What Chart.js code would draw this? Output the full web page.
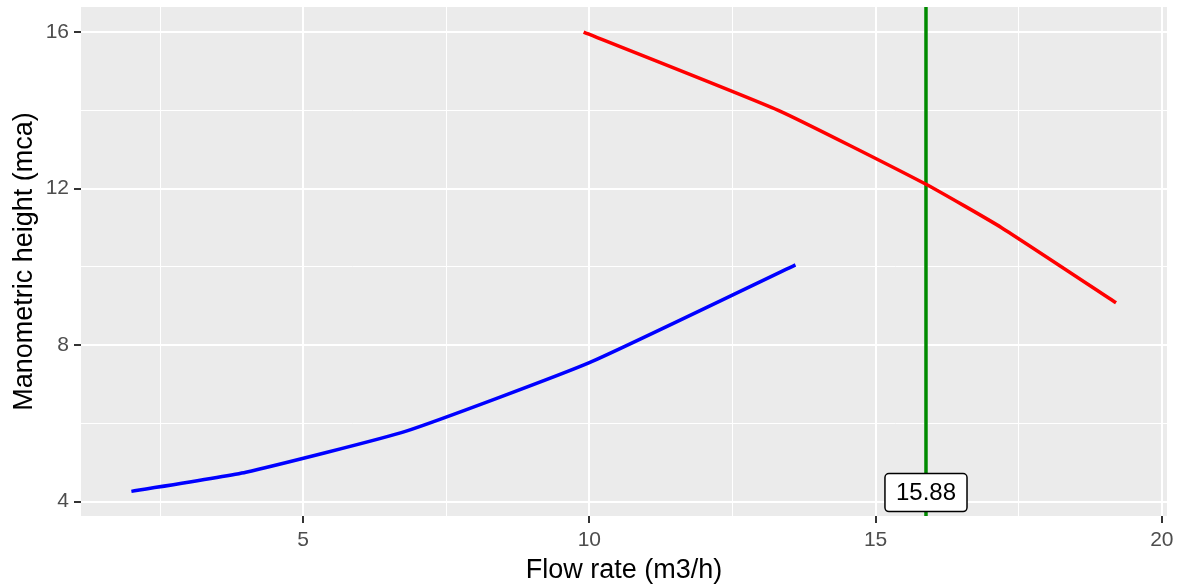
<!DOCTYPE html>
<html>
<head>
<meta charset="utf-8">
<script src="https://cdn.jsdelivr.net/npm/chart.js@4.4.1/dist/chart.umd.min.js"></script>
<style>
  html, body { margin: 0; padding: 0; background: #fff; }
  #wrap { width: 1184px; height: 587px; }
</style>
</head>
<body>
<div id="wrap"><canvas id="pumpChart"></canvas></div>
<script>
// system curve (blue)
const systemFlow = [2.0, 4.0, 6.8, 10.0, 13.6];
const systemHead = [4.26, 4.75, 5.8, 7.55, 10.05];
// pump curve (red)
const pumpFlow = [9.9, 13.3, 15.88, 17.2, 19.2];
const pumpHead = [16.0, 14.0, 12.11, 11.0, 9.08];
// operating point
const operatingFlow = 15.88;
const operatingLabel = '15.88';
// axes
const xMajorTicks = [5, 10, 15, 20];
const xAllTicks = [2.5, 5, 7.5, 10, 12.5, 15, 17.5, 20];
const yMajorTicks = [4, 8, 12, 16];
const yAllTicks = [4, 6, 8, 10, 12, 14, 16];
const X_MIN = 1.12, X_MAX = 20.09;
const Y_MIN = 3.63, Y_MAX = 16.64;

const FONT = '"Liberation Sans", Arial, sans-serif';
const toPoints = (xs, ys) => xs.map((x, i) => ({ x: x, y: ys[i] }));

const panelBackground = {
    id: 'panelBackground',
    beforeDraw(chart) {
        const a = chart.chartArea, ctx = chart.ctx;
        ctx.save();
        ctx.fillStyle = '#EBEBEB';
        ctx.fillRect(a.left, a.top, a.right - a.left, a.bottom - a.top);
        ctx.restore();
    }
};

const valueLabel = {
    id: 'valueLabel',
    afterDatasetsDraw(chart) {
        const ctx = chart.ctx;
        const px = chart.scales.x.getPixelForValue(operatingFlow);
        const py = chart.scales.y.getPixelForValue(4);
        ctx.save();
        ctx.font = '24px ' + FONT;
        const w = ctx.measureText(operatingLabel).width + 22;
        const h = 38;
        const x0 = px - w / 2, y0 = py - h / 2 - 9;
        ctx.beginPath();
        ctx.roundRect(x0, y0, w, h, 4);
        ctx.fillStyle = '#FFFFFF';
        ctx.fill();
        ctx.lineWidth = 1.5;
        ctx.strokeStyle = '#000000';
        ctx.stroke();
        ctx.fillStyle = '#000000';
        ctx.textAlign = 'center';
        ctx.textBaseline = 'middle';
        ctx.fillText(operatingLabel, px, y0 + h / 2 + 1);
        ctx.restore();
    }
};

const gridColor = '#FFFFFF';

new Chart(document.getElementById('pumpChart'), {
    type: 'scatter',
    data: {
        datasets: [
            {
                label: 'System',
                data: toPoints(systemFlow, systemHead),
                showLine: true, borderColor: '#0000FF', borderWidth: 3.5,
                pointRadius: 0, tension: 0.15
            },
            {
                label: 'Pump',
                data: toPoints(pumpFlow, pumpHead),
                showLine: true, borderColor: '#FF0000', borderWidth: 3.5,
                pointRadius: 0, tension: 0.15
            },
            {
                label: 'Operating flow',
                data: [{ x: operatingFlow, y: Y_MIN }, { x: operatingFlow, y: Y_MAX }],
                showLine: true, borderColor: '#008B00', borderWidth: 3.5,
                pointRadius: 0
            }
        ]
    },
    options: {
        responsive: true,
        maintainAspectRatio: false,
        animation: false,
        layout: { padding: { top: 7, right: 17, left: 0, bottom: 0 } },
        plugins: { legend: { display: false }, tooltip: { enabled: false } },
        scales: {
            x: {
                type: 'linear', min: X_MIN, max: X_MAX,
                afterBuildTicks: s => { s.ticks = xAllTicks.map(v => ({ value: v })); },
                afterFit: s => { s.height = 71; s.paddingLeft = 0; s.paddingRight = 0; },
                border: { display: false },
                grid: {
                    color: gridColor,
                    lineWidth: c => xMajorTicks.includes(c.tick.value) ? 2 : 1,
                    tickColor: c => xMajorTicks.includes(c.tick.value) ? '#333333' : 'rgba(0,0,0,0)',
                    tickLength: 7
                },
                ticks: {
                    autoSkip: false, maxRotation: 0, padding: 5,
                    color: '#4D4D4D',
                    font: { family: FONT, size: 21 },
                    callback: v => xMajorTicks.includes(v) ? String(v) : ''
                },
                title: {
                    display: true, text: 'Flow rate (m3/h)', color: '#000000',
                    font: { family: FONT, size: 27 },
                    padding: { top: 0, bottom: 0 }
                }
            },
            y: {
                type: 'linear', min: Y_MIN, max: Y_MAX,
                afterBuildTicks: s => { s.ticks = yAllTicks.map(v => ({ value: v })); },
                afterFit: s => { s.width = 81; s.paddingTop = 0; s.paddingBottom = 0; },
                border: { display: false },
                grid: {
                    color: gridColor,
                    lineWidth: c => yMajorTicks.includes(c.tick.value) ? 2 : 1,
                    tickColor: c => yMajorTicks.includes(c.tick.value) ? '#333333' : 'rgba(0,0,0,0)',
                    tickLength: 7
                },
                ticks: {
                    autoSkip: false, padding: 5,
                    color: '#4D4D4D',
                    font: { family: FONT, size: 21 },
                    callback: v => yMajorTicks.includes(v) ? String(v) : ''
                },
                title: {
                    display: true, text: 'Manometric height (mca)', color: '#000000',
                    font: { family: FONT, size: 27 },
                    padding: { top: 8, bottom: 0 }
                }
            }
        }
    },
    plugins: [panelBackground, valueLabel]
});
</script>
</body>
</html>
